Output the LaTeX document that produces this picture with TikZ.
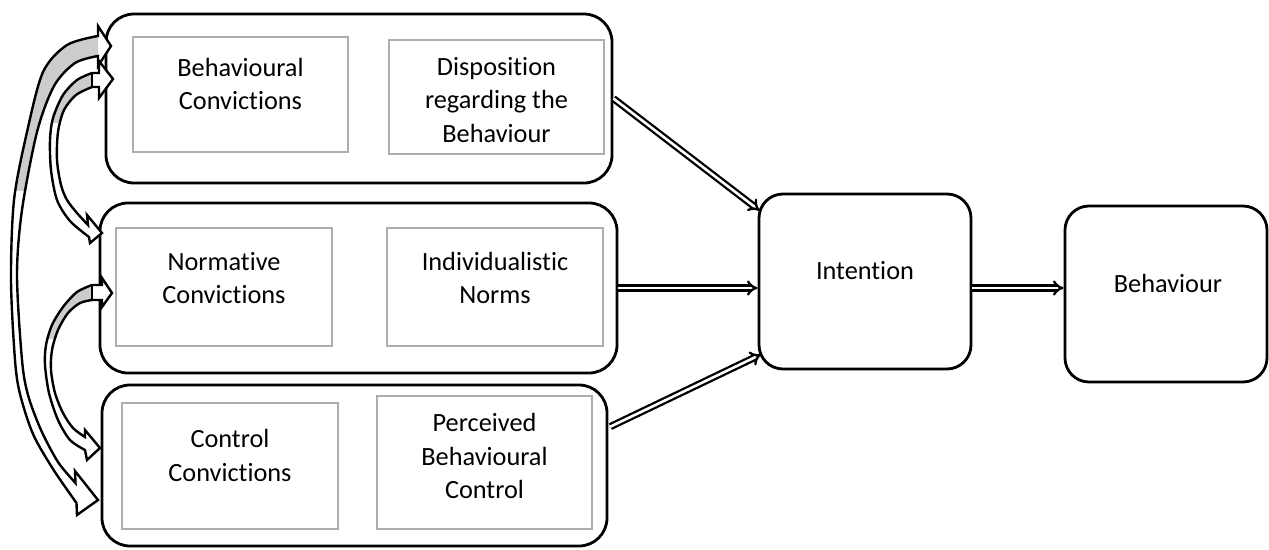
\documentclass[tikz,border=0pt]{standalone}
\usepackage{fontspec}
\setmainfont{Carlito}[Ligatures={NoCommon,NoContextual,NoRare}]
\usetikzlibrary{arrows.meta,calc}

% ribbon-shaped curved arrows on the left (outline of each band with both heads)
\def\bandA{(98,36) -- (98,26) -- (111,46) -- (98,66) -- (98,56)
  -- plot[smooth] coordinates {(98,56) (75,63) (54,86) (37,132) (22,210) (17,275) (22,360) (28,395) (41,430) (58,462) (75.5,483)}
  -- (75,471) -- (98,500) -- (77,515) -- (76.5,503)
  -- plot[smooth] coordinates {(76.5,503) (53,469) (33,434) (20,394) (15,360) (11,280) (14,200) (27,132) (43,72) (67,45) (98,36)}
  -- cycle}
\def\bandB{(99,73) -- (99,61) -- (113,79) -- (99,98) -- (99,87) -- (92,87)
  -- plot[smooth] coordinates {(92,87) (76,95) (64,110) (58,132) (57,160) (61,185) (67,200) (77,213) (88,225)}
  -- (87,215) -- (102,233) -- (90,243) -- (89,237)
  -- plot[smooth] coordinates {(89,237) (70,221) (57,200) (51,170) (50,140) (53,118) (63,95) (77,80) (92,73)}
  -- cycle}
\def\bandC{(102,285) -- (102,278) -- (112,293) -- (102,307) -- (102,300) -- (92,300)
  -- plot[smooth] coordinates {(92,300) (80,303) (68,313) (58,330) (52,350) (51,370) (55,393) (63,413) (73,428) (85,437)}
  -- (85,430) -- (100,448) -- (87,460) -- (85,450)
  -- plot[smooth] coordinates {(85,450) (70,440) (58,420) (49,393) (45,365) (46,345) (52,325) (63,307) (77,292) (92,285)}
  -- cycle}

\begin{document}
\begin{tikzpicture}[x=1pt,y=-1pt,
  grp/.style={draw, line width=2.8pt, rounded corners=28pt, inner sep=0pt, rectangle},
  endbox/.style={draw, line width=2.8pt, rounded corners=24pt, inner sep=0pt, rectangle},
  inbox/.style={draw=black!32, line width=2.6pt, inner sep=0pt, rectangle},
  txt/.style={align=center, inner sep=0pt, font=\fontsize{26.3}{33.5}\selectfont},
  ribbon/.style={draw, line width=2.4pt, line join=miter, miter limit=4},
  backface/.style={fill=black!20},
  dbl/.style={double=white, double distance=2.6pt, line width=2.3pt, -{Implies}}]

\useasboundingbox (0,0) rectangle (1269,549);

% outer groups
\node[grp, minimum width=506pt, minimum height=169pt] (g1) at (359,98.5) {};
\node[grp, minimum width=517pt, minimum height=170pt] (g2) at (358.5,288) {};
\node[grp, minimum width=505pt, minimum height=161pt] (g3) at (354.5,465.5) {};

% inner boxes
\node[inbox, minimum width=215pt, minimum height=115pt] (b1a) at (240.5,94.5) {};
\node[inbox, minimum width=215pt, minimum height=114pt] (b1b) at (496.5,97) {};
\node[inbox, minimum width=216pt, minimum height=118pt] (b2a) at (224,287) {};
\node[inbox, minimum width=216pt, minimum height=118pt] (b2b) at (495,287) {};
\node[inbox, minimum width=216pt, minimum height=126pt] (b3a) at (230,466) {};
\node[inbox, minimum width=215pt, minimum height=133pt] (b3b) at (484.5,462.5) {};

\node[txt] (t1a) at (240.5,84) {Behavioural\\Convictions};
\node[txt] (t1b) at (496.5,100) {Disposition\\regarding the\\Behaviour};
\node[txt] (t2a) at (224,278) {Normative\\Convictions};
\node[txt] (t2b) at (495,278) {Individualistic\\Norms};
\node[txt] (t3a) at (230,455.5) {Control\\Convictions};
\node[txt] (t3b) at (484.5,456) {Perceived\\Behavioural\\Control};

% intention and behaviour
\node[endbox, minimum width=212pt, minimum height=175pt] (int) at (865,281.5) {};
\node[endbox, minimum width=202pt, minimum height=176pt] (beh) at (1166,294) {};
\node[txt] (tint) at (865,271) {Intention};
\node[txt] (tbeh) at (1168,283) {Behaviour};

% curved two-headed arrows between the groups
\fill[white] \bandA;
\begin{scope}
  \clip (0,0) rectangle (98,190);
  \fill[backface] \bandA;
\end{scope}
\path[ribbon] \bandA;

\fill[white] \bandB;
\begin{scope}
  \clip (0,0) rectangle (92,122);
  \fill[backface] \bandB;
\end{scope}
\path[ribbon] \bandB;
\draw[line width=2.4pt] (92,73) -- (92,87);

\fill[white] \bandC;
\begin{scope}
  \clip (0,270) rectangle (92,338);
  \fill[backface] \bandC;
\end{scope}
\path[ribbon] \bandC;
\draw[line width=2.4pt] (92,285) -- (92,300);

% connectors to intention and behaviour
\draw[dbl] (g1.east) -- ($(int.north west)+(2,18)$);
\draw[dbl] (g2.east) -- (int.west |- g2.east);
\draw[dbl] ($(g3.north east)+(2,43)$) -- ($(int.south west)+(3.5,-16)$);
\draw[dbl] (int.east |- 0,288) -- (beh.west |- 0,288);
\end{tikzpicture}
\end{document}
